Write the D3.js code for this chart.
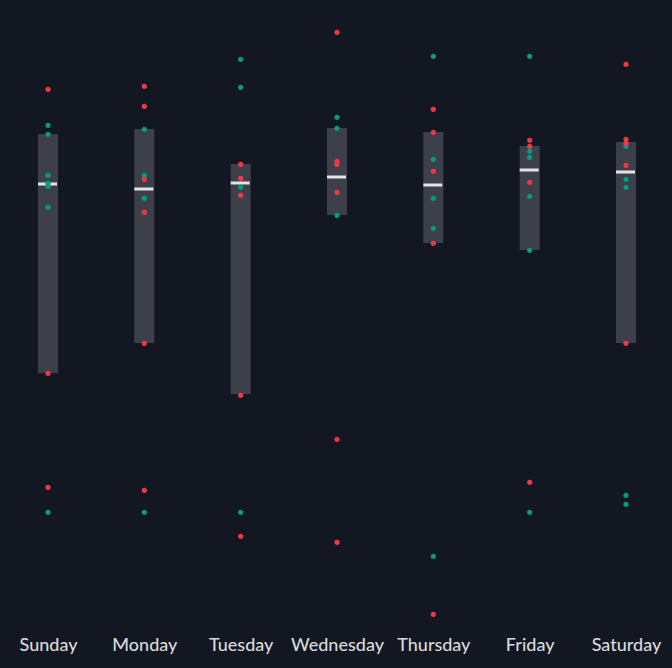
<!DOCTYPE html>
<html>
<head>
<meta charset="utf-8">
<script src="https://cdn.jsdelivr.net/npm/d3@7"></script>
<style>
  html, body { margin: 0; padding: 0; background: #131722; }
  svg { display: block; }
</style>
</head>
<body>
<svg id="chart" width="672" height="668"></svg>
<script>
// Categories
const days = ["Sunday", "Monday", "Tuesday", "Wednesday", "Thursday", "Friday", "Saturday"];

// Box statistics per day (lower edge, median, upper edge)
const boxLow    = [24.7, 27.7, 22.6, 40.5, 37.7, 37.0, 27.7];
const boxMedian = [43.6, 43.1, 43.7, 44.3, 43.5, 45.0, 44.8];
const boxHigh   = [48.6, 49.1, 45.6, 49.2, 48.8, 47.4, 47.8];

// Individual observations per day, with colour class (g = up, r = down)
const sundayValues    = [53.1, 49.5, 48.6, 44.5, 43.7, 43.4, 41.3, 24.7, 13.3, 10.8];
const sundayKinds     = ["r", "g", "g", "g", "g", "g", "g", "r", "r", "g"];
const mondayValues    = [53.4, 51.4, 49.1, 44.5, 44.1, 42.2, 40.8, 27.7, 13.0, 10.8];
const mondayKinds     = ["r", "r", "g", "g", "r", "g", "r", "r", "r", "g"];
const tuesdayValues   = [56.1, 53.3, 45.6, 44.2, 43.3, 42.5, 22.5, 10.8, 8.4];
const tuesdayKinds    = ["g", "g", "r", "r", "g", "r", "r", "g", "r"];
const wednesdayValues = [58.8, 50.3, 49.2, 45.9, 45.6, 42.8, 40.5, 18.1, 7.8];
const wednesdayKinds  = ["r", "g", "g", "r", "r", "r", "g", "r", "r"];
const thursdayValues  = [56.4, 51.1, 48.8, 46.1, 44.9, 42.2, 39.2, 37.7, 6.4, 0.6];
const thursdayKinds   = ["g", "r", "r", "g", "r", "g", "g", "r", "g", "r"];
const fridayValues    = [56.4, 48.0, 47.4, 46.9, 46.3, 43.8, 42.4, 37.0, 13.8, 10.8];
const fridayKinds     = ["g", "r", "r", "g", "g", "r", "g", "g", "r", "g"];
const saturdayValues  = [55.6, 48.1, 47.7, 47.4, 45.5, 44.1, 43.3, 27.7, 12.5, 11.6];
const saturdayKinds   = ["r", "r", "r", "g", "r", "g", "g", "r", "g", "g"];

const valuesByDay = [sundayValues, mondayValues, tuesdayValues, wednesdayValues, thursdayValues, fridayValues, saturdayValues];
const kindsByDay  = [sundayKinds, mondayKinds, tuesdayKinds, wednesdayKinds, thursdayKinds, fridayKinds, saturdayKinds];

const W = 672, H = 668;
const colors = { g: "#089981", r: "#f23645" };

const svg = d3.select("#chart");
svg.append("rect").attr("width", W).attr("height", H).attr("fill", "#131722");

const x = d3.scalePoint().domain(days).range([48, 626]);
const y = d3.scaleLinear().domain([0, 60]).range([620, 20]);

const boxW = 20;

const boxes = days.map((d, i) => ({ day: d, low: boxLow[i], med: boxMedian[i], high: boxHigh[i] }));

svg.append("g").selectAll("rect").data(boxes).join("rect")
  .attr("x", d => x(d.day) - boxW / 2)
  .attr("y", d => y(d.high))
  .attr("width", boxW)
  .attr("height", d => y(d.low) - y(d.high))
  .attr("fill", "#3d404b");

svg.append("g").selectAll("rect").data(boxes).join("rect")
  .attr("x", d => x(d.day) - boxW / 2)
  .attr("y", d => y(d.med) - 1.5)
  .attr("width", boxW - 1)
  .attr("height", 3)
  .attr("fill", "#e3e3e3");

const points = [];
days.forEach((d, i) => {
  valuesByDay[i].forEach((v, j) => points.push({ day: d, v: v, k: kindsByDay[i][j] }));
});
// greens first, reds on top
points.sort((a, b) => (a.k === b.k ? 0 : a.k === "g" ? -1 : 1));

svg.append("g").selectAll("circle").data(points).join("circle")
  .attr("cx", d => x(d.day))
  .attr("cy", d => y(d.v) + 0.3)
  .attr("r", 2.6)
  .attr("fill", d => colors[d.k]);

const xAxis = d3.axisBottom(x).tickSize(0).tickPadding(0);
const ax = svg.append("g").attr("transform", "translate(0,651)").call(xAxis);
ax.select(".domain").remove();
ax.selectAll("text")
  .attr("fill", "#d9d9d9")
  .attr("font-family", "Lato, sans-serif")
  .attr("font-size", 18)
  .attr("font-weight", 500)
  .attr("dy", "0");
</script>
</body>
</html>
